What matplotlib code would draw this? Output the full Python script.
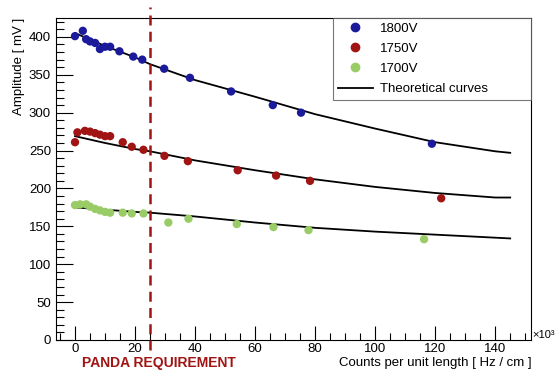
import matplotlib
matplotlib.use("Agg")
import matplotlib.pyplot as plt
from matplotlib.ticker import MultipleLocator
from matplotlib.lines import Line2D

plt.rcParams['font.family'] = ['Liberation Sans', 'DejaVu Sans']

# Data (x in units of 10^3 Hz/cm, amplitude in mV)
x_1800 = [0, 2.6, 3.7, 5, 6.7, 8.3, 10, 11.7, 14.8, 19.4, 22.4, 29.7, 38.3, 52, 65.9, 75.3, 118.9]
y_1800 = [401, 408, 397, 394, 392, 384, 387, 387, 381, 374, 370, 358, 346, 328, 310, 300, 259]

x_1750 = [0, 0.8, 3.3, 5, 6.7, 8.3, 10, 11.7, 15.9, 18.9, 22.8, 29.8, 37.6, 54.2, 67, 78.3, 122]
y_1750 = [261, 274, 276, 275, 273, 271, 269, 269, 261, 255, 251, 243, 236, 224, 217, 210, 187]

x_1700 = [0, 1.7, 3.7, 5, 6.7, 8.3, 10, 11.7, 15.9, 18.9, 22.8, 31.1, 37.8, 53.9, 66.1, 77.8, 116.3]
y_1700 = [178, 179, 179, 176, 173, 171, 169, 168, 168, 167, 167, 155, 160, 153, 149, 145, 133]

# Theoretical curves
xc = [0, 10, 20, 25, 40, 60, 80, 100, 120, 140, 145]
yc_1800 = [405, 388, 373, 364, 343, 321, 298, 279, 261, 249, 247]
yc_1750 = [269, 260, 252, 249, 237, 224, 212, 202, 194, 188, 188]
yc_1700 = [175, 172, 169, 168, 163, 155, 148, 143, 139, 135, 134]

panda_x = 25

c_blue = '#1a1a9a'
c_red = '#a01414'
c_green = '#99cc66'
c_dash = '#a01414'

fig = plt.figure(figsize=(5.58, 3.74), dpi=100)
ax = fig.add_axes([0.100, 0.091, 0.852, 0.861])

for xc_, yc_ in [(xc, yc_1800), (xc, yc_1750), (xc, yc_1700)]:
    ax.plot(xc_, yc_, color='black', lw=1.3, zorder=2)

ms = 36
ax.scatter(x_1800, y_1800, s=ms, color=c_blue, zorder=3, edgecolors='none')
ax.scatter(x_1750, y_1750, s=ms, color=c_red, zorder=3, edgecolors='none')
ax.scatter(x_1700, y_1700, s=ms, color=c_green, zorder=3, edgecolors='none')

ax.axvline(panda_x, ymin=-0.03, ymax=1.035, color=c_dash, lw=1.8,
           ls=(0, (4, 2.5)), clip_on=False, zorder=4)

ax.set_xlim(-6.4, 152)
ax.set_ylim(0, 425)

ax.xaxis.set_major_locator(MultipleLocator(20))
ax.xaxis.set_minor_locator(MultipleLocator(5))
ax.yaxis.set_major_locator(MultipleLocator(50))
ax.yaxis.set_minor_locator(MultipleLocator(10))
ax.tick_params(which='both', direction='in', labelsize=9.5, width=0.8)
ax.tick_params(axis='y', which='major', length=12)
ax.tick_params(axis='y', which='minor', length=6)
ax.tick_params(axis='x', which='major', length=10)
ax.tick_params(axis='x', which='minor', length=5)
ax.tick_params(axis='x', pad=2)

ax.set_xticks([0, 20, 40, 60, 80, 100, 120, 140])

for s in ax.spines.values():
    s.set_linewidth(0.8)

ax.set_ylabel('Amplitude [ mV ]', fontsize=9.5, loc='top')
ax.yaxis.set_label_coords(-0.065, 1.0)
fig.text(0.952, 0.030, 'Counts per unit length [ Hz / cm ]', ha='right', va='center', fontsize=9.5)
fig.text(0.953, 0.104, '×10³', ha='left', va='center', fontsize=8)
fig.text(0.285, 0.030, 'PANDA REQUIREMENT', ha='center', va='center', fontsize=10,
         fontweight='bold', color=c_red)

handles = [
    Line2D([], [], ls='none', marker='o', ms=6, color=c_blue, label='1800V'),
    Line2D([], [], ls='none', marker='o', ms=6, color=c_red, label='1750V'),
    Line2D([], [], ls='none', marker='o', ms=6, color=c_green, label='1700V'),
    Line2D([], [], color='black', lw=1.3, label='Theoretical curves'),
]
leg = ax.legend(handles=handles, loc='upper right', bbox_to_anchor=(0.583, 0.0, 0.417, 1.0),
                mode='expand', fontsize=9.5, frameon=True, fancybox=False, edgecolor='#555555',
                borderaxespad=0, handlelength=2.65, handletextpad=0.55,
                borderpad=0.35, labelspacing=0.6)
leg.get_frame().set_linewidth(0.8)

fig.savefig('out.png', dpi=100)
